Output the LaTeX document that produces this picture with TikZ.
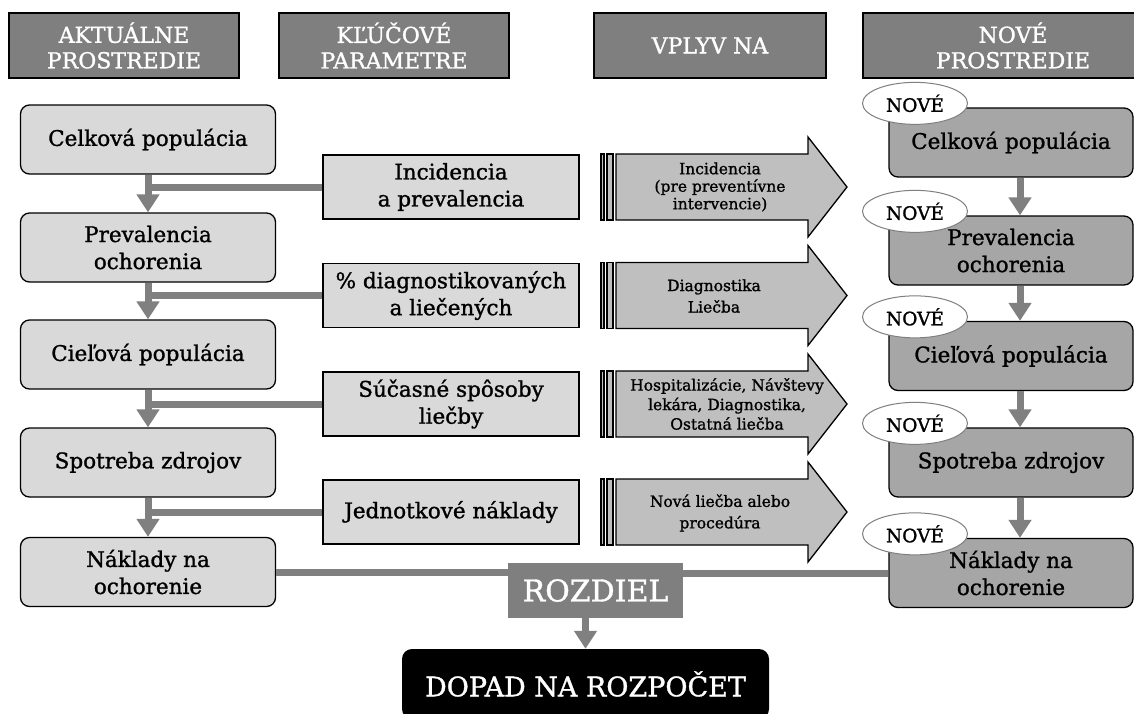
\documentclass[tikz,border=0pt]{standalone}
\usepackage{fontspec}
\setmainfont{DejaVu Serif}[RawFeature={embolden=1.2}]
\usetikzlibrary{arrows.meta,shapes.geometric}

\definecolor{hdrgray}{HTML}{7F7F7F}
\definecolor{boxlight}{HTML}{D9D9D9}
\definecolor{boxdark}{HTML}{A6A6A6}
\definecolor{arrowgray}{HTML}{BFBFBF}
\definecolor{linkgray}{HTML}{808080}

\tikzset{
    hdr/.style={draw=black, line width=1.3pt, fill=hdrgray, text=white, minimum height=65pt,
        inner sep=0pt, align=center, font=\fontsize{22}{25.5}\selectfont},
    oldbox/.style={draw=black, line width=1.3pt, fill=boxlight, rounded corners=9pt,
        minimum width=255pt, minimum height=69pt, inner sep=0pt, align=center,
        font=\fontsize{21.5}{27}\selectfont},
    newbox/.style={oldbox, fill=boxdark, minimum width=244pt},
    parambox/.style={draw=black, line width=1.3pt, fill=boxlight, minimum width=256pt,
        minimum height=64pt, inner sep=0pt, align=center, font=\fontsize{21.5}{27}\selectfont},
    impact/.style={inner sep=0pt, align=center, font=\fontsize{15.5}{19.5}\selectfont},
    newtag/.style={ellipse, draw=hdrgray, line width=1pt, fill=white, minimum width=105pt,
        minimum height=42pt, inner sep=0pt, font=\fontsize{18.5}{18.5}\selectfont},
    link/.style={draw=linkgray, line width=7pt},
    flow/.style={link, -{Triangle[width=22pt,length=18pt,color=linkgray]}},
}

\begin{document}
\begin{tikzpicture}[x=1pt,y=-1pt]
    \useasboundingbox (0,0) rectangle (1134,713);

    % Column headers
    \node[hdr, minimum width=230pt] (h1) at (124,45.5) {AKTUÁLNE\\PROSTREDIE};
    \node[hdr, minimum width=230pt] (h2) at (394,45.5) {KĽÚČOVÉ\\PARAMETRE};
    \node[hdr, minimum width=232pt] (h3) at (710,45.5) {VPLYV NA};
    \node[hdr, minimum width=300pt] (h4) at (1013,45.5) {NOVÉ\\PROSTREDIE};

    % Current and new environment
    \foreach \i/\ya/\yb/\txt in {1/139.5/142.5/Celková populácia,
                                  2/247.5/250.5/{Prevalencia\\ochorenia},
                                  3/354.5/356/Cieľová populácia,
                                  4/462.5/462.5/Spotreba zdrojov,
                                  5/572/573/{Náklady na\\ochorenie}} {
        \node[oldbox] (c\i) at (148,\ya) {\txt};
        \node[newbox] (n\i) at (1011,\yb) {\txt};
    }

    % Key parameters
    \node[parambox] (k1) at (451,187) {Incidencia\\a prevalencia};
    \node[parambox] (k2) at (451,295.5) {\% diagnostikovaných\\a liečených};
    \node[parambox] (k3) at (451,404) {Súčasné spôsoby\\liečby};
    \node[parambox] (k4) at (451,512) {Jednotkové náklady};

    % Striped arrows
    \foreach \y in {187,295.5,404,512} {
        \filldraw[fill=arrowgray, line width=1.3pt] (601,\y-33) rectangle (604,\y+33);
        \filldraw[fill=arrowgray, line width=1.3pt] (607,\y-33) rectangle (613,\y+33);
        \filldraw[fill=arrowgray, line width=1.3pt] (616,\y-33) -- (808,\y-33) -- (808,\y-50)
            -- (847,\y) -- (808,\y+50) -- (808,\y+33) -- (616,\y+33) -- cycle;
    }
    \node[impact, font=\fontsize{15.5}{17.5}\selectfont] (v1) at (720,187)
        {Incidencia\\(pre preventívne\\intervencie)};
    \node[impact] (v2) at (714,296) {Diagnostika\\[2pt]Liečba};
    \node[impact] (v3) at (727,404) {Hospitalizácie, Návštevy\\lekára, Diagnostika,\\Ostatná liečba};
    \node[impact] (v4) at (720,513) {Nová liečba alebo\\[2pt]procedúra};

    % Flow on the left
    \foreach \i/\j in {1/2,2/3,3/4,4/5} {
        \draw[flow] (c\i.south) -- (c\j.north);
        \draw[link] (k\i.west) -- (k\i.west -| c\i.south);
    }

    % Flow on the right
    \coordinate (rx) at (1020,0);
    \foreach \i/\j in {1/2,2/3,3/4,4/5} {
        \draw[flow] (n\i.south -| rx) -- (n\j.north -| rx);
    }
    \foreach \i in {1,...,5} {
        \node[newtag] (t\i) at ([yshift=4pt]n\i.north -| 915,0) {NOVÉ};
    }

    % Difference and budget impact
    \node[fill=hdrgray, text=white, minimum width=175pt, minimum height=55pt, inner sep=0pt,
        font=\fontsize{30}{30}\selectfont] (diff) at (595.5,590.5) {ROZDIEL};
    \node[fill=black, text=white, rounded corners=10pt, minimum width=367pt, minimum height=70pt,
        inner sep=0pt, font=\fontsize{27}{27}\selectfont] (budget) at (585.5,684) {DOPAD NA ROZPOČET};
    \draw[link] (c5.east) -- (c5.east -| diff.west);
    \draw[link] (n5.west -| diff.east) -- (n5.west);
    \draw[flow] (budget.north |- diff.south) -- (budget.north);

\end{tikzpicture}
\end{document}
